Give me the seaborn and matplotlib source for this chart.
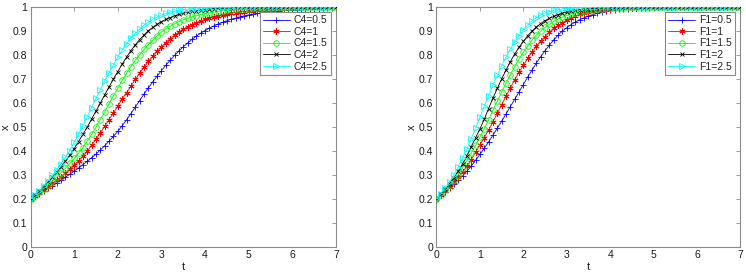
import numpy as np
import pandas as pd
import matplotlib
matplotlib.use('Agg')
import matplotlib.pyplot as plt
import matplotlib.ticker as mticker
import seaborn as sns

# time grid, step 0.1 from 0 to 7
t = np.round(np.arange(0, 71) * 0.1, 1)

# left panel: parameter C4
c4_labels = ['C4=0.5', 'C4=1', 'C4=1.5', 'C4=2', 'C4=2.5']
c4_05 = [0.200, 0.211, 0.222, 0.233, 0.244, 0.255, 0.267, 0.279, 0.291, 0.303,
         0.316, 0.329, 0.343, 0.357, 0.372, 0.387, 0.404, 0.422, 0.441, 0.461,
         0.482, 0.505, 0.530, 0.556, 0.583, 0.610, 0.637, 0.663, 0.688, 0.712,
         0.735, 0.757, 0.778, 0.798, 0.817, 0.834, 0.850, 0.865, 0.879, 0.891,
         0.902, 0.912, 0.921, 0.929, 0.936, 0.943, 0.949, 0.954, 0.959, 0.963,
         0.967, 0.970, 0.973, 0.976, 0.978, 0.980, 0.982, 0.984, 0.986, 0.987,
         0.988, 0.989, 0.990, 0.991, 0.992, 0.993, 0.994, 0.994, 0.995, 0.995,
         0.996]
c4_1 = [0.200, 0.212, 0.225, 0.238, 0.251, 0.265, 0.279, 0.293, 0.308, 0.324,
        0.341, 0.359, 0.379, 0.400, 0.424, 0.449, 0.476, 0.503, 0.531, 0.559,
        0.588, 0.616, 0.643, 0.670, 0.698, 0.724, 0.749, 0.773, 0.795, 0.816,
        0.835, 0.852, 0.868, 0.883, 0.896, 0.908, 0.918, 0.927, 0.935, 0.942,
        0.948, 0.954, 0.959, 0.963, 0.967, 0.971, 0.974, 0.977, 0.979, 0.981,
        0.983, 0.985, 0.987, 0.988, 0.989, 0.990, 0.991, 0.992, 0.993, 0.994,
        0.995, 0.995, 0.996, 0.996, 0.997, 0.997, 0.997, 0.998, 0.998, 0.998,
        0.998]
c4_15 = [0.200, 0.214, 0.228, 0.243, 0.258, 0.274, 0.291, 0.309, 0.328, 0.348,
         0.369, 0.391, 0.414, 0.441, 0.469, 0.499, 0.531, 0.564, 0.597, 0.630,
         0.662, 0.694, 0.724, 0.752, 0.778, 0.801, 0.823, 0.843, 0.862, 0.880,
         0.896, 0.909, 0.920, 0.930, 0.939, 0.947, 0.953, 0.959, 0.964, 0.969,
         0.973, 0.976, 0.979, 0.982, 0.984, 0.986, 0.988, 0.990, 0.991, 0.992,
         0.993, 0.994, 0.995, 0.996, 0.996, 0.997, 0.997, 0.998, 0.998, 0.998,
         0.999, 0.999, 0.999, 0.999, 0.999, 0.999, 1.000, 1.000, 1.000, 1.000,
         1.000]
c4_2 = [0.200, 0.216, 0.233, 0.251, 0.270, 0.290, 0.311, 0.334, 0.358, 0.383,
        0.410, 0.439, 0.469, 0.500, 0.533, 0.566, 0.600, 0.634, 0.667, 0.700,
        0.731, 0.762, 0.791, 0.818, 0.842, 0.864, 0.884, 0.901, 0.915, 0.928,
        0.939, 0.948, 0.956, 0.963, 0.969, 0.974, 0.978, 0.982, 0.985, 0.987,
        0.989, 0.991, 0.993, 0.994, 0.995, 0.996, 0.997, 0.997, 0.998, 0.998,
        0.998, 0.999, 0.999, 0.999, 0.999, 0.999, 1.000, 1.000, 1.000, 1.000,
        1.000, 1.000, 1.000, 1.000, 1.000, 1.000, 1.000, 1.000, 1.000, 1.000,
        1.000]
c4_25 = [0.200, 0.217, 0.235, 0.255, 0.276, 0.298, 0.322, 0.347, 0.374, 0.402,
         0.436, 0.470, 0.506, 0.543, 0.581, 0.619, 0.656, 0.692, 0.727, 0.760,
         0.792, 0.821, 0.847, 0.870, 0.890, 0.908, 0.924, 0.937, 0.948, 0.958,
         0.966, 0.973, 0.978, 0.982, 0.986, 0.989, 0.991, 0.993, 0.995, 0.996,
         0.997, 0.998, 0.998, 0.999, 0.999, 0.999, 0.999, 1.000, 1.000, 1.000,
         1.000, 1.000, 1.000, 1.000, 1.000, 1.000, 1.000, 1.000, 1.000, 1.000,
         1.000, 1.000, 1.000, 1.000, 1.000, 1.000, 1.000, 1.000, 1.000, 1.000,
         1.000]

# right panel: parameter F1
f1_labels = ['F1=0.5', 'F1=1', 'F1=1.5', 'F1=2', 'F1=2.5']
f1_05 = [0.200, 0.215, 0.230, 0.246, 0.263, 0.280, 0.296, 0.316, 0.337, 0.361,
         0.386, 0.411, 0.438, 0.466, 0.495, 0.524, 0.554, 0.585, 0.615, 0.646,
         0.677, 0.708, 0.737, 0.767, 0.793, 0.818, 0.841, 0.863, 0.883, 0.900,
         0.914, 0.927, 0.938, 0.947, 0.955, 0.962, 0.968, 0.974, 0.979, 0.983,
         0.986, 0.988, 0.990, 0.992, 0.993, 0.995, 0.995, 0.996, 0.997, 0.997,
         0.998, 0.998, 0.998, 0.999, 0.999, 0.999, 0.999, 0.999, 1.000, 1.000,
         1.000, 1.000, 1.000, 1.000, 1.000, 1.000, 1.000, 1.000, 1.000, 1.000,
         1.000]
f1_1 = [0.200, 0.217, 0.234, 0.252, 0.271, 0.291, 0.312, 0.337, 0.364, 0.394,
        0.425, 0.456, 0.487, 0.521, 0.557, 0.593, 0.628, 0.663, 0.697, 0.728,
        0.757, 0.786, 0.813, 0.837, 0.858, 0.877, 0.896, 0.911, 0.924, 0.935,
        0.946, 0.955, 0.963, 0.969, 0.975, 0.979, 0.983, 0.986, 0.988, 0.990,
        0.991, 0.993, 0.994, 0.995, 0.996, 0.997, 0.997, 0.998, 0.998, 0.999,
        0.999, 0.999, 0.999, 1.000, 1.000, 1.000, 1.000, 1.000, 1.000, 1.000,
        1.000, 1.000, 1.000, 1.000, 1.000, 1.000, 1.000, 1.000, 1.000, 1.000,
        1.000]
f1_15 = [0.200, 0.218, 0.238, 0.258, 0.279, 0.302, 0.330, 0.360, 0.391, 0.424,
         0.458, 0.493, 0.531, 0.570, 0.608, 0.645, 0.682, 0.717, 0.751, 0.782,
         0.812, 0.838, 0.862, 0.883, 0.900, 0.915, 0.928, 0.940, 0.950, 0.958,
         0.965, 0.971, 0.976, 0.980, 0.984, 0.987, 0.989, 0.991, 0.993, 0.994,
         0.995, 0.996, 0.997, 0.997, 0.998, 0.998, 0.999, 0.999, 0.999, 0.999,
         1.000, 1.000, 1.000, 1.000, 1.000, 1.000, 1.000, 1.000, 1.000, 1.000,
         1.000, 1.000, 1.000, 1.000, 1.000, 1.000, 1.000, 1.000, 1.000, 1.000,
         1.000]
f1_2 = [0.200, 0.220, 0.241, 0.264, 0.289, 0.316, 0.346, 0.381, 0.418, 0.455,
        0.492, 0.532, 0.577, 0.620, 0.661, 0.700, 0.737, 0.772, 0.804, 0.832,
        0.857, 0.880, 0.900, 0.917, 0.931, 0.943, 0.953, 0.961, 0.968, 0.974,
        0.979, 0.983, 0.986, 0.989, 0.991, 0.993, 0.994, 0.995, 0.996, 0.997,
        0.997, 0.998, 0.998, 0.999, 0.999, 0.999, 1.000, 1.000, 1.000, 1.000,
        1.000, 1.000, 1.000, 1.000, 1.000, 1.000, 1.000, 1.000, 1.000, 1.000,
        1.000, 1.000, 1.000, 1.000, 1.000, 1.000, 1.000, 1.000, 1.000, 1.000,
        1.000]
f1_25 = [0.200, 0.222, 0.245, 0.271, 0.299, 0.333, 0.369, 0.408, 0.451, 0.496,
         0.541, 0.587, 0.631, 0.675, 0.716, 0.755, 0.792, 0.825, 0.855, 0.881,
         0.905, 0.925, 0.942, 0.956, 0.967, 0.975, 0.981, 0.986, 0.989, 0.992,
         0.994, 0.995, 0.996, 0.997, 0.998, 0.998, 0.999, 0.999, 0.999, 0.999,
         1.000, 1.000, 1.000, 1.000, 1.000, 1.000, 1.000, 1.000, 1.000, 1.000,
         1.000, 1.000, 1.000, 1.000, 1.000, 1.000, 1.000, 1.000, 1.000, 1.000,
         1.000, 1.000, 1.000, 1.000, 1.000, 1.000, 1.000, 1.000, 1.000, 1.000,
         1.000]

colors = ['#0000ff', '#ff0000', '#00ff00', '#000000', '#00ffff']
markers = ['+', (6, 2, 0), 'o', 'x', '>']
msizes = [4.5, 4.5, 4.0, 3.5, 4.5]

sns.set_theme(style='white')
plt.rcParams['font.family'] = ['Liberation Sans', 'DejaVu Sans']
plt.rcParams['font.size'] = 7.5

fig = plt.figure(figsize=(7.46, 2.75), dpi=100)
ax1 = fig.add_axes([0.0409, 0.1018, 0.4095, 0.8727])
ax2 = fig.add_axes([0.5851, 0.1018, 0.4075, 0.8727])

panels = [
    (ax1, c4_labels, [c4_05, c4_1, c4_15, c4_2, c4_25]),
    (ax2, f1_labels, [f1_05, f1_1, f1_15, f1_2, f1_25]),
]

edge = '#8a8a8a'
for ax, labels, series in panels:
    for i, (lab, vals) in enumerate(zip(labels, series)):
        df = pd.DataFrame({'t': t, 'x': vals})
        sns.lineplot(data=df, x='t', y='x', ax=ax, color=colors[i], label=lab,
                     marker=markers[i], markersize=msizes[i],
                     markerfacecolor='none', markeredgecolor=colors[i],
                     markeredgewidth=0.6, linewidth=0.6, zorder=2 + i)
    ax.set_xlim(0, 7)
    ax.set_ylim(0, 1)
    ax.set_xticks(range(0, 8))
    ax.set_yticks(np.round(np.arange(0, 11) * 0.1, 1))
    ax.yaxis.set_major_formatter(mticker.FormatStrFormatter('%g'))
    ax.tick_params(direction='in', length=3, width=0.6, colors=edge,
                   labelcolor='#1a1a1a', labelsize=7.5, top=True, right=True,
                   pad=2.5)
    for sp in ax.spines.values():
        sp.set_color(edge)
        sp.set_linewidth(0.8)
    ax.set_xlabel('t', fontsize=8, labelpad=1, color='#1a1a1a')
    ax.set_ylabel('x', fontsize=8, labelpad=1, color='#1a1a1a')
    leg = ax.legend(loc='upper right', fontsize=7.5, frameon=True, fancybox=False,
                    framealpha=1, edgecolor=edge, borderpad=0.3,
                    labelspacing=0.15, handlelength=2.6, handletextpad=0.4,
                    borderaxespad=0.5)
    leg.get_frame().set_linewidth(0.8)

fig.savefig('out.png', dpi=100)
